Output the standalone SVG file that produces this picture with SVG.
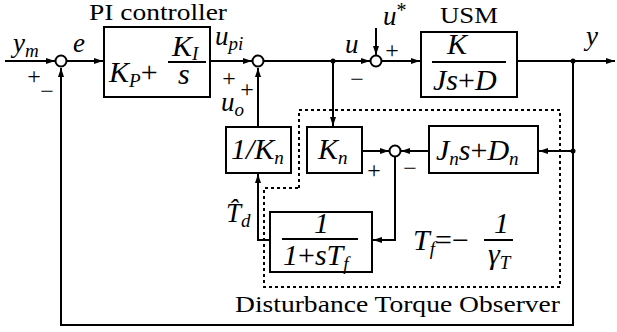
<svg xmlns="http://www.w3.org/2000/svg" width="617" height="332" viewBox="0 0 617 332">
<defs>
<style>
.ln{stroke:#000;stroke-width:2;fill:none}
.bx{stroke:#000;stroke-width:2;fill:#fff}
.sm{stroke:#000;stroke-width:2;fill:#fff}
.dt{stroke:#000;stroke-width:2;stroke-dasharray:3 3;fill:none}
.t{font-family:"Liberation Serif","Times New Roman",serif;font-size:24px;fill:#000}
.m{font-family:"Liberation Serif","Times New Roman",serif;font-style:italic;font-size:30px;fill:#000}
.ml{font-family:"Liberation Serif","Times New Roman",serif;font-style:italic;font-size:27px;fill:#000}
.r{font-style:normal}
.sub{font-size:19px}
.sg{font-family:"Liberation Serif","Times New Roman",serif;font-size:24px;fill:#000;text-anchor:middle}
</style>
<marker id="a" markerWidth="9" markerHeight="8" refX="9" refY="4" orient="auto" markerUnits="userSpaceOnUse">
<path d="M0,1 L9,4 L0,7 Z" fill="#000"/>
</marker>
</defs>
<rect width="617" height="332" fill="#fff"/>

<g id="observer-frame">
<path class="dt" d="M299,188 V110 H560 V287 H264 V188 Z"/>
<text class="t" x="235" y="312" font-size="25" textLength="325" lengthAdjust="spacingAndGlyphs">Disturbance Torque Observer</text>
</g>

<g id="connectors">
<path class="ln" d="M5,61 H55" marker-end="url(#a)"/>
<path class="ln" d="M67,61 H103" marker-end="url(#a)"/>
<path class="ln" d="M210,61 H252" marker-end="url(#a)"/>
<path class="ln" d="M264,61 H370" marker-end="url(#a)"/>
<path class="ln" d="M376,28 V55" marker-end="url(#a)"/>
<path class="ln" d="M382,61 H420" marker-end="url(#a)"/>
<path class="ln" d="M517,61 H615" marker-end="url(#a)"/>
<path class="ln" d="M573,61 V325 H61 V68" marker-end="url(#a)"/>
<path class="ln" d="M333,61 V126" marker-end="url(#a)"/>
<path class="ln" d="M573,151 H539" marker-end="url(#a)"/>
<path class="ln" d="M429,151 H401" marker-end="url(#a)"/>
<path class="ln" d="M362,151 H389" marker-end="url(#a)"/>
<path class="ln" d="M395,157 V240 H373" marker-end="url(#a)"/>
<path class="ln" d="M270,240 H258 V174" marker-end="url(#a)"/>
<path class="ln" d="M258,127 V68" marker-end="url(#a)"/>
<circle cx="333" cy="61" r="2.5" fill="#000"/>
<circle cx="573" cy="61" r="2.5" fill="#000"/>
<circle cx="573" cy="151" r="2.5" fill="#000"/>
</g>

<g id="sum1">
<circle class="sm" cx="61" cy="61" r="5.5"/>
<text class="sg" x="34" y="84">+</text>
<text class="sg" x="47" y="99">−</text>
</g>
<g id="sum2">
<circle class="sm" cx="258" cy="61" r="5.5"/>
<text class="sg" x="229" y="86">+</text>
<text class="sg" x="247" y="97">+</text>
</g>
<g id="sum3">
<circle class="sm" cx="376" cy="61" r="5.5"/>
<text class="sg" x="392" y="58">+</text>
<text class="sg" x="357" y="87">−</text>
</g>
<g id="sum4">
<circle class="sm" cx="395" cy="151" r="5.5"/>
<text class="sg" x="374" y="178">+</text>
<text class="sg" x="410" y="176">−</text>
</g>

<g id="labels">
<text class="ml" x="13" y="52">y<tspan class="sub" dy="5">m</tspan></text>
<text class="ml" x="73" y="52">e</text>
<text class="ml" x="215" y="45">u<tspan class="sub" dy="5">pi</tspan></text>
<text class="ml" x="221" y="111">u<tspan class="sub" dy="5">o</tspan></text>
<text class="ml" x="345" y="53">u</text>
<text class="ml" x="383" y="25">u<tspan class="r" font-size="20" dy="-8">*</tspan></text>
<text class="ml" x="586" y="45">y</text>
<text class="ml" x="226" y="222">T̂<tspan class="sub" dy="5">d</tspan></text>
</g>

<g id="pi-controller">
<rect class="bx" x="104" y="27" width="106" height="70"/>
<text class="t" x="89" y="20" textLength="138" lengthAdjust="spacingAndGlyphs">PI controller</text>
<text class="m" x="109" y="82">K<tspan class="sub" dy="5">P</tspan><tspan class="r" dy="-5">+</tspan></text>
<text class="m" x="172" y="56" font-size="28">K<tspan class="sub" dy="4">I</tspan></text>
<line class="ln" x1="168" y1="62" x2="206" y2="62"/>
<text class="m" x="178" y="84">s</text>
</g>

<g id="usm">
<rect class="bx" x="421" y="32" width="96" height="65"/>
<text class="t" x="440" y="23" textLength="58" lengthAdjust="spacingAndGlyphs">USM</text>
<text class="m" x="447" y="54">K</text>
<line class="ln" x1="432" y1="62" x2="506" y2="62"/>
<text class="m" x="433" y="90">Js<tspan class="r">+</tspan>D</text>
</g>

<g id="inv-kn">
<rect class="bx" x="226" y="127" width="65" height="46"/>
<text class="m" x="231" y="159">1/K<tspan class="sub" dy="5">n</tspan></text>
</g>

<g id="kn">
<rect class="bx" x="307" y="127" width="55" height="46"/>
<text class="m" x="318" y="159">K<tspan class="sub" dy="5">n</tspan></text>
</g>

<g id="jn-dn">
<rect class="bx" x="429" y="126" width="109" height="47"/>
<text class="m" x="436" y="160">J<tspan class="sub" dy="5">n</tspan><tspan dy="-5">s</tspan><tspan class="r">+</tspan>D<tspan class="sub" dy="5">n</tspan></text>
</g>

<g id="filter">
<rect class="bx" x="270" y="212" width="102" height="60"/>
<text class="m" x="314" y="233">1</text>
<line class="ln" x1="282" y1="239" x2="358" y2="239"/>
<text class="m" x="283" y="265">1<tspan class="r">+</tspan>sT<tspan class="sub" dy="5">f</tspan></text>
</g>

<g id="tf-eq">
<text class="m" x="413" y="250">T<tspan class="sub" dy="5">f</tspan><tspan class="r" dy="-5">=−</tspan></text>
<text class="m" x="494" y="233">1</text>
<line class="ln" x1="484" y1="240" x2="513" y2="240"/>
<text class="m" x="488" y="264">γ<tspan class="sub" dy="5">T</tspan></text>
</g>
</svg>
